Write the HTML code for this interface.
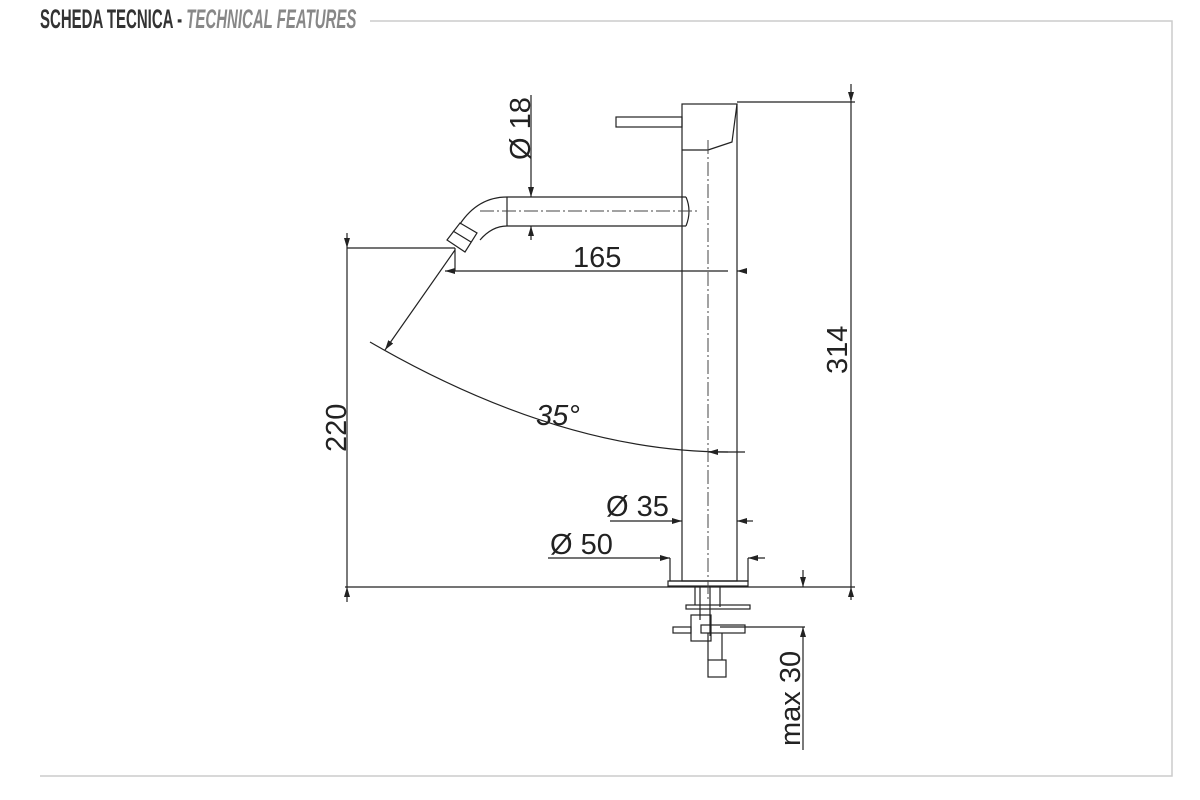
<!DOCTYPE html>
<html><head><meta charset="utf-8"><style>
html,body{margin:0;padding:0;background:#fff;width:1200px;height:800px;overflow:hidden}
.h{position:absolute;left:40px;top:4px;font-family:"Liberation Sans",sans-serif;font-weight:bold;font-size:27px;color:#333;white-space:nowrap;transform:scaleX(0.555);transform-origin:left}
.h i{color:#888}
</style></head><body>
<div class="h">SCHEDA TECNICA - <i>TECHNICAL FEATURES</i></div>
<svg width="1200" height="800" style="position:absolute;left:0;top:0" font-family="Liberation Sans,sans-serif">
<defs><marker id="a" viewBox="0 0 10 6" refX="10" refY="3" markerWidth="10" markerHeight="6" orient="auto" markerUnits="userSpaceOnUse"><path d="M0,0L10,3L0,6z" fill="#222"/></marker></defs>
<g stroke="#ccc" stroke-width="1.5" fill="none">
<path d="M370,21H1172V776H40"/>
</g>
<g stroke="#222" stroke-width="1.2" fill="none">
<rect x="682" y="104" width="55" height="477"/>
<line x1="682" y1="150" x2="708" y2="150"/>
<path d="M708,150L732,142L737,104"/>
<rect x="616" y="117" width="66" height="10"/>
<path d="M686,197H507Q478,197 460,224"/>
<path d="M686,226H507Q492,226 480,240"/>
<line x1="507" y1="197" x2="507" y2="226"/>
<path d="M686,197Q692,211 686,226"/>
<path d="M447,240L460,223L477,233L465,252Z"/>
<line x1="453" y1="231" x2="471" y2="242"/>
<path d="M670,558V581H748V558"/>
<rect x="668" y="581" width="80" height="5"/>
<path d="M695,587V605M700,587V620M710,587V636M720,587V607"/>
<rect x="686" y="605" width="64" height="4"/>
<rect x="691" y="615" width="20" height="26"/>
<rect x="673" y="627" width="18" height="6"/>
<rect x="701" y="625" width="44" height="8"/>
<path d="M708,633V660M722,633V660"/>
<rect x="708" y="660" width="18" height="17"/>
<line x1="737" y1="102" x2="855" y2="102"/>
<line x1="851" y1="84" x2="851" y2="102" marker-end="url(#a)"/>
<line x1="851" y1="587" x2="851" y2="102"/>
<line x1="851" y1="600" x2="851" y2="587" marker-end="url(#a)"/>
<line x1="345" y1="587" x2="855" y2="587"/>
<line x1="347" y1="248" x2="455" y2="248"/>
<line x1="347" y1="233" x2="347" y2="248" marker-end="url(#a)"/>
<line x1="347" y1="248" x2="347" y2="587"/>
<line x1="347" y1="602" x2="347" y2="587" marker-end="url(#a)"/>
<line x1="531" y1="95" x2="531" y2="197" marker-end="url(#a)"/>
<line x1="531" y1="240" x2="531" y2="226" marker-end="url(#a)"/>
<line x1="455" y1="248" x2="455" y2="271"/>
<line x1="728" y1="271" x2="445" y2="271" marker-end="url(#a)"/>
<line x1="745" y1="271" x2="737" y2="271" marker-end="url(#a)"/>
<line x1="455" y1="250" x2="385" y2="350" marker-end="url(#a)"/>
<path d="M370,342Q560,452 728,452"/>
<line x1="745" y1="452" x2="708" y2="452" marker-end="url(#a)"/>
<line x1="610" y1="521" x2="682" y2="521" marker-end="url(#a)"/>
<line x1="753" y1="521" x2="737" y2="521" marker-end="url(#a)"/>
<line x1="548" y1="558" x2="670" y2="558" marker-end="url(#a)"/>
<line x1="765" y1="558" x2="748" y2="558" marker-end="url(#a)"/>
<line x1="720" y1="627" x2="805" y2="627"/>
<line x1="803" y1="570" x2="803" y2="587" marker-end="url(#a)"/>
<line x1="803" y1="750" x2="803" y2="627" marker-end="url(#a)"/>
</g>
<line x1="708" y1="140" x2="708" y2="600" stroke="#444" stroke-width="1" stroke-dasharray="14,3,2,3"/>
<line x1="480" y1="211" x2="700" y2="211" stroke="#444" stroke-width="1" stroke-dasharray="14,3,2,3"/>
<g fill="#222" font-size="29">
<text x="573" y="267">165</text>
<text transform="translate(847,374) rotate(-90)">314</text>
<text transform="translate(346,452) rotate(-90)">220</text>
<text transform="translate(530,160) rotate(-90)">Ø 18</text>
<text x="536" y="425" font-style="italic">35°</text>
<text x="606" y="516">Ø 35</text>
<text x="550" y="554">Ø 50</text>
<text transform="translate(800,746) rotate(-90)">max 30</text>
</g>
</svg>
</body></html>
